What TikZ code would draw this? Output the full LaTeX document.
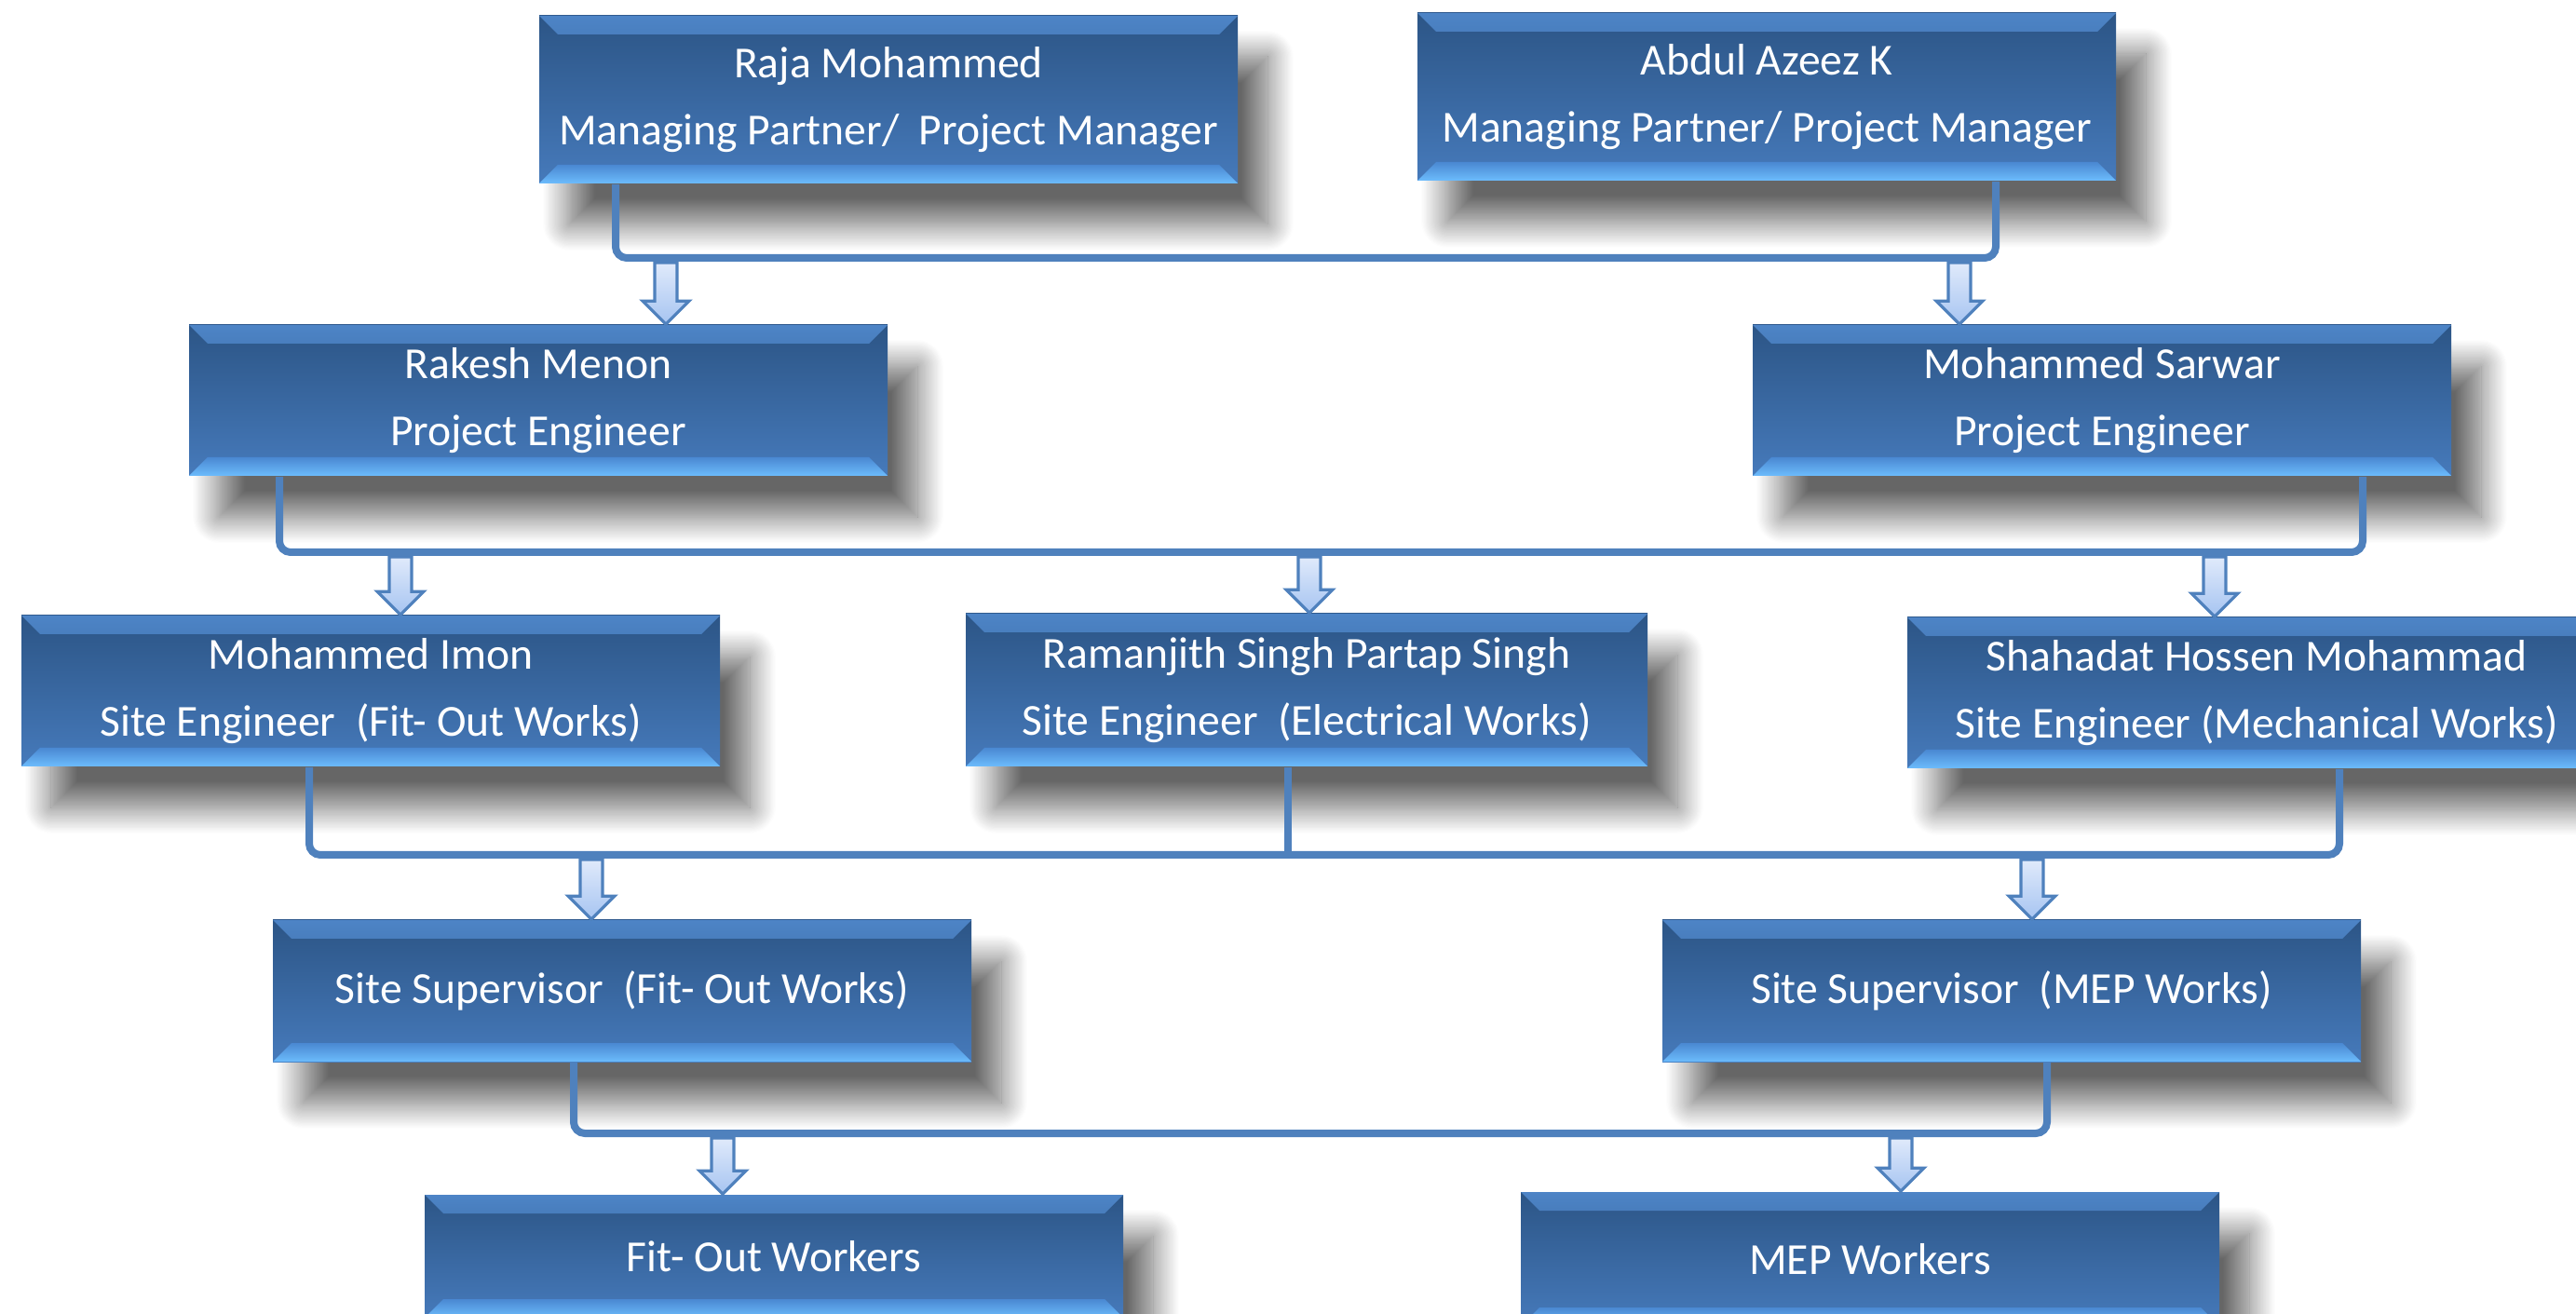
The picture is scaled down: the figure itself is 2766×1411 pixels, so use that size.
\documentclass[tikz,border=0pt]{standalone}
\usepackage{fontspec}
\setmainfont{Carlito}
\usetikzlibrary{calc,positioning,shadows.blur}

\definecolor{bevtop}{HTML}{4D84C6}
\definecolor{bevdark}{HTML}{2C5586}
\definecolor{bevmid}{HTML}{467ABB}
\definecolor{bevlow}{HTML}{4A88D2}
\definecolor{bevbright}{HTML}{6CBCFC}
\definecolor{linkblue}{HTML}{4F81BD}
\definecolor{arrowtop}{HTML}{E0EAFB}
\definecolor{arrowbot}{HTML}{A6C4F1}

\tikzset{
	orgbox/.style={minimum width=187.5pt, inner sep=0pt, align=center, text=white,
		font=\fontsize{11.9}{18}\selectfont,
		blur shadow={shadow xshift=8pt, shadow yshift=-11pt, shadow blur radius=7pt,
			shadow blur steps=24, shadow opacity=60},
		top color=bevdark, bottom color=bevmid,
		path picture={
			\shade[top color=bevtop, bottom color=bevdark]
				(path picture bounding box.north west) -- (path picture bounding box.north east)
				-- ($(path picture bounding box.north east)+(-20,20)$)
				-- ($(path picture bounding box.north west)+(20,20)$) -- cycle;
			\shade[top color=bevlow, bottom color=bevbright]
				($(path picture bounding box.south west)+(20,-20)$)
				-- ($(path picture bounding box.south east)+(-20,-20)$)
				-- (path picture bounding box.south east) -- (path picture bounding box.south west) -- cycle;
		}},
	bus/.style={draw=linkblue, line width=2pt, rounded corners=3pt},
	blkarrow/.style={draw=linkblue, line width=0.8pt, top color=arrowtop, bottom color=arrowbot}
}

% block arrow from a bus point down to a box
\newcommand{\blkarrow}[2]{%
	\coordinate (arrtip) at (#1 |- #2.north);
	\draw[blkarrow] ($(#1)+(-12,5)$) -- ($(#1)+(12,5)$) -- ($(arrtip)+(12,-25)$)
		-- ($(arrtip)+(25,-25)$) -- (arrtip) -- ($(arrtip)+(-25,-25)$)
		-- ($(arrtip)+(-12,-25)$) -- cycle;}

\begin{document}
\begin{tikzpicture}[x=0.25pt,y=-0.25pt]
	\useasboundingbox (0,0) rectangle (2766,1411);

	% Boxes
	\node[orgbox, minimum height=45pt] (raja) at (954,107) {Raja Mohammed\\Managing Partner/~ Project Manager};
	\node[orgbox, minimum height=45pt] (abdul) at (1897,104) {Abdul Azeez K\\Managing Partner/ Project Manager};
	\node[orgbox, minimum height=40.5pt] (rakesh) at (578,430) {Rakesh Menon\\Project Engineer};
	\node[orgbox, minimum height=40.5pt] (sarwar) at (2257,430) {Mohammed Sarwar\\Project Engineer};
	\node[orgbox, minimum height=40.5pt] (imon) at (398,742) {Mohammed Imon\\Site Engineer~ (Fit- Out Works)};
	\node[orgbox, minimum height=41pt, minimum width=183pt] (ramanjith) at (1403,741) {Ramanjith Singh Partap Singh\\Site Engineer~ (Electrical Works)};
	\node[orgbox, minimum height=40.5pt] (shahadat) at (2423,744) {Shahadat Hossen Mohammad\\Site Engineer (Mechanical Works)};
	\node[orgbox, minimum height=38pt] (supfit) at (668,1064) {Site Supervisor~ (Fit- Out Works)};
	\node[orgbox, minimum height=38pt] (supmep) at (2160,1064) {Site Supervisor~ (MEP Works)};
	\node[orgbox, minimum height=33pt] (wrkfit) at (831,1349) {Fit- Out Workers};
	\node[orgbox, minimum height=36pt] (wrkmep) at (2008,1352) {MEP Workers};

	% Bus lines
	\coordinate (b1l) at (661,277);
	\coordinate (b1r) at (2143,277);
	\draw[bus] (raja.south -| b1l) -- (b1l) -- (b1r) -- (abdul.south -| b1r);
	\coordinate (b2l) at (300,593);
	\coordinate (b2r) at (2537,593);
	\draw[bus] (rakesh.south -| b2l) -- (b2l) -- (b2r) -- (sarwar.south -| b2r);
	\coordinate (b3l) at (332,918);
	\coordinate (b3m) at (1383,918);
	\coordinate (b3r) at (2512,918);
	\draw[bus] (imon.south -| b3l) -- (b3l) -- (b3r) -- (shahadat.south -| b3r);
	\draw[bus] (ramanjith.south -| b3m) -- (b3m);
	\coordinate (b4l) at (616,1217);
	\coordinate (b4r) at (2198,1217);
	\draw[bus] (supfit.south -| b4l) -- (b4l) -- (b4r) -- (supmep.south -| b4r);

	% Block arrows
	\coordinate (a1) at (715,277);
	\coordinate (a2) at (2104,277);
	\coordinate (a3) at (430,593);
	\coordinate (a4) at (1406,593);
	\coordinate (a5) at (2378,593);
	\coordinate (a6) at (635,918);
	\coordinate (a7) at (2182,918);
	\coordinate (a8) at (776,1217);
	\coordinate (a9) at (2041,1217);
	\blkarrow{a1}{rakesh}
	\blkarrow{a2}{sarwar}
	\blkarrow{a3}{imon}
	\blkarrow{a4}{ramanjith}
	\blkarrow{a5}{shahadat}
	\blkarrow{a6}{supfit}
	\blkarrow{a7}{supmep}
	\blkarrow{a8}{wrkfit}
	\blkarrow{a9}{wrkmep}
\end{tikzpicture}
\end{document}
